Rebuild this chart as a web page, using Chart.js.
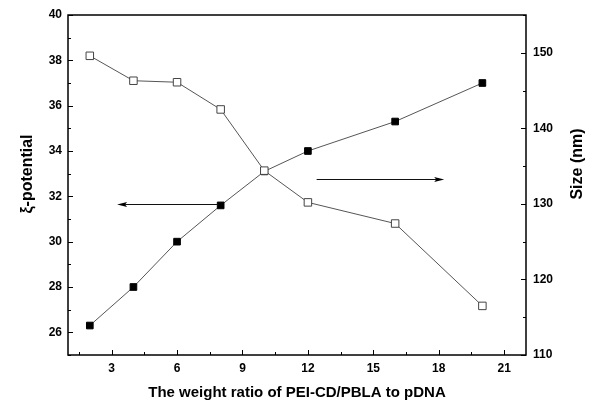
<!DOCTYPE html>
<html>
<head>
<meta charset="utf-8">
<script src="https://cdn.jsdelivr.net/npm/chart.js@4/dist/chart.umd.min.js"></script>
<style>
  html, body { margin: 0; padding: 0; background: #fff; }
  #wrap { width: 600px; height: 408px; }
</style>
</head>
<body>
<div id="wrap"><canvas id="c" width="600" height="408"></canvas></div>
<script>
// ---- data ----
const ratios = [2, 4, 6, 8, 10, 12, 16, 20];
const zetaPotential = [26.3, 28.0, 30.0, 31.6, 33.1, 34.0, 35.3, 37.0];
const particleSize = [149.6, 146.3, 146.1, 142.5, 134.4, 130.2, 127.4, 116.5];

const xTicks = [3, 6, 9, 12, 15, 18, 21];
const xMinorTicks = [1.5, 4.5, 7.5, 10.5, 13.5, 16.5, 19.5];
const leftTicks = [26, 28, 30, 32, 34, 36, 38, 40];
const leftMinorTicks = [25, 27, 29, 31, 33, 35, 37, 39];
const rightTicks = [110, 120, 130, 140, 150];
const rightMinorTicks = [115, 125, 135, 145, 155];

const xTitle = 'The weight ratio of PEI-CD/PBLA to pDNA';
const leftTitle = 'ξ-potential';
const rightTitle = 'Size (nm)';

// arrows (data units, on left axis): [xFrom, xTo, y]
const arrowToLeft = [7.9, 3.25, 31.66];
const arrowToRight = [12.4, 18.25, 32.76];

const FONT = '"Liberation Sans", Arial, sans-serif';

const framePlugin = {
  id: 'frame',
  afterDatasetsDraw(chart) {
    const ctx = chart.ctx;
    const a = chart.chartArea;
    const xs = chart.scales.x, yl = chart.scales.yL, yr = chart.scales.yR;
    ctx.save();
    // frame
    ctx.strokeStyle = '#000';
    ctx.lineWidth = 1.5;
    ctx.strokeRect(a.left, a.top, a.right - a.left, a.bottom - a.top);
    // ticks inward
    ctx.lineWidth = 1;
    ctx.beginPath();
    const major = 5, minor = 3;
    xTicks.forEach(v => { const p = Math.round(xs.getPixelForValue(v)) + 0.5; ctx.moveTo(p, a.bottom); ctx.lineTo(p, a.bottom - major); });
    xMinorTicks.forEach(v => { const p = Math.round(xs.getPixelForValue(v)) + 0.5; ctx.moveTo(p, a.bottom); ctx.lineTo(p, a.bottom - minor); });
    leftTicks.forEach(v => { const p = Math.round(yl.getPixelForValue(v)) + 0.5; ctx.moveTo(a.left, p); ctx.lineTo(a.left + major, p); });
    leftMinorTicks.forEach(v => { const p = Math.round(yl.getPixelForValue(v)) + 0.5; ctx.moveTo(a.left, p); ctx.lineTo(a.left + minor, p); });
    rightTicks.forEach(v => { const p = Math.round(yr.getPixelForValue(v)) + 0.5; ctx.moveTo(a.right, p); ctx.lineTo(a.right - major, p); });
    rightMinorTicks.forEach(v => { const p = Math.round(yr.getPixelForValue(v)) + 0.5; ctx.moveTo(a.right, p); ctx.lineTo(a.right - minor, p); });
    ctx.stroke();

    // arrows
    function arrow(spec) {
      const x1 = xs.getPixelForValue(spec[0]);
      const x2 = xs.getPixelForValue(spec[1]);
      const y = Math.round(yl.getPixelForValue(spec[2])) + 0.5;
      const dir = Math.sign(x2 - x1);
      const headLen = 10, headHalf = 2.5;
      ctx.strokeStyle = '#111';
      ctx.lineWidth = 1.2;
      ctx.beginPath();
      ctx.moveTo(x1, y);
      ctx.lineTo(x2 - dir * headLen * 0.8, y);
      ctx.stroke();
      ctx.fillStyle = '#000';
      ctx.beginPath();
      ctx.moveTo(x2, y);
      ctx.lineTo(x2 - dir * headLen, y - headHalf);
      ctx.lineTo(x2 - dir * headLen * 0.8, y);
      ctx.lineTo(x2 - dir * headLen, y + headHalf);
      ctx.closePath();
      ctx.fill();
    }
    arrow(arrowToLeft);
    arrow(arrowToRight);

    // axis titles
    ctx.fillStyle = '#000';
    ctx.font = 'bold 15px ' + FONT;
    ctx.textAlign = 'center';
    ctx.textBaseline = 'middle';
    ctx.fillText(xTitle, (a.left + a.right) / 2, 393);
    ctx.font = 'bold 16px ' + FONT;
    ctx.save();
    ctx.translate(28, 174);
    ctx.rotate(-Math.PI / 2);
    ctx.fillText(leftTitle, 0, 0);
    ctx.restore();
    ctx.save();
    ctx.translate(578, 164);
    ctx.rotate(-Math.PI / 2);
    ctx.fillText(rightTitle, 0, 0);
    ctx.restore();
    ctx.restore();
  }
};

function setTicks(list) {
  return function (scale) { scale.ticks = list.map(v => ({ value: v })); };
}

new Chart(document.getElementById('c'), {
  type: 'line',
  data: {
    datasets: [
      {
        label: 'Size',
        data: ratios.map((x, i) => ({ x: x, y: particleSize[i] })),
        yAxisID: 'yR',
        borderColor: '#555',
        borderWidth: 1,
        pointStyle: 'rect',
        pointRadius: 5.3,
        pointBackgroundColor: '#fff',
        pointBorderColor: '#444',
        pointBorderWidth: 1,
        tension: 0,
        fill: false
      },
      {
        label: 'Zeta',
        data: ratios.map((x, i) => ({ x: x, y: zetaPotential[i] })),
        yAxisID: 'yL',
        borderColor: '#555',
        borderWidth: 1,
        pointStyle: 'rect',
        pointRadius: 4.7,
        pointBackgroundColor: '#000',
        pointBorderColor: '#000',
        pointBorderWidth: 1,
        tension: 0,
        fill: false
      }
    ]
  },
  options: {
    responsive: false,
    animation: false,
    layout: { padding: { top: 15, left: 0, right: 0, bottom: 0 } },
    plugins: { legend: { display: false }, tooltip: { enabled: false } },
    scales: {
      x: {
        type: 'linear',
        min: 1, max: 22,
        grid: { display: false, drawTicks: false },
        border: { display: false },
        afterBuildTicks: setTicks(xTicks),
        afterFit(scale) { scale.height = 53; },
        ticks: { color: '#000', padding: 6, font: { family: FONT, size: 12, weight: 'bold' }, maxRotation: 0 }
      },
      yL: {
        type: 'linear',
        position: 'left',
        min: 25, max: 40,
        grid: { display: false, drawTicks: false },
        border: { display: false },
        afterBuildTicks: setTicks(leftTicks),
        afterFit(scale) { scale.width = 68; },
        ticks: { color: '#000', padding: 6, font: { family: FONT, size: 12, weight: 'bold' } }
      },
      yR: {
        type: 'linear',
        position: 'right',
        min: 110, max: 155,
        grid: { display: false, drawTicks: false },
        border: { display: false },
        afterBuildTicks: setTicks(rightTicks),
        afterFit(scale) { scale.width = 74; },
        ticks: { color: '#000', padding: 7, font: { family: FONT, size: 12, weight: 'bold' } }
      }
    }
  },
  plugins: [framePlugin]
});
</script>
</body>
</html>
